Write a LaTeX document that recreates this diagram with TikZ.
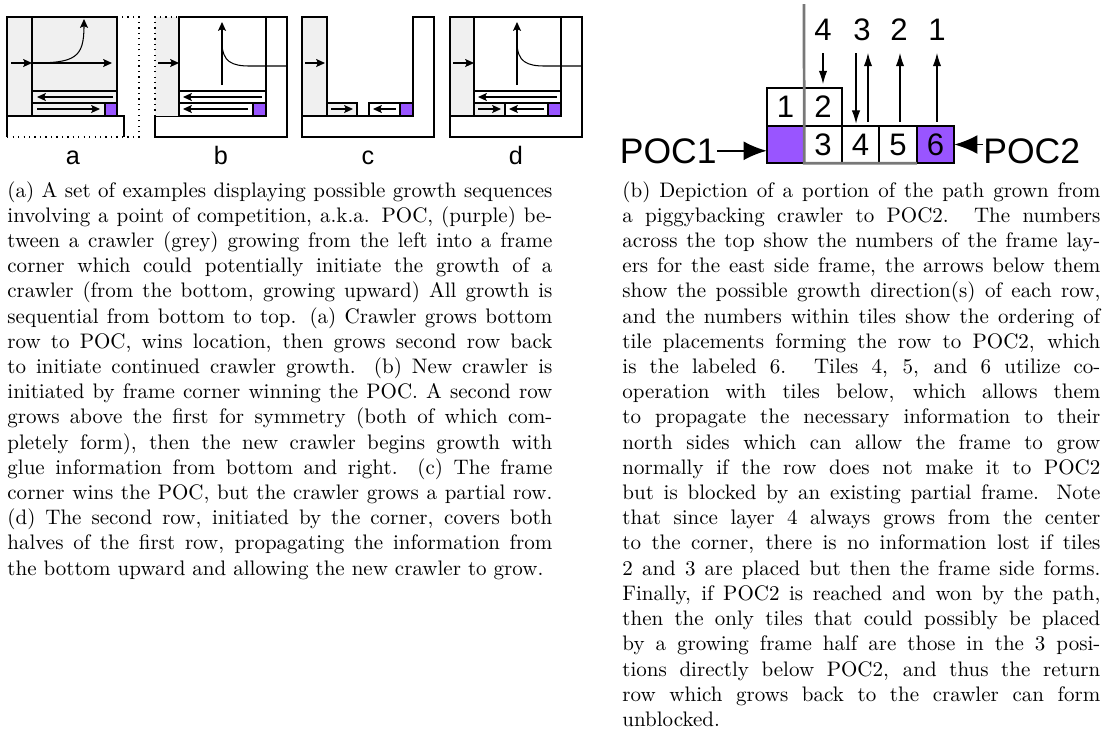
\documentclass[tikz,border=0pt]{standalone}
\usepackage{fontspec}
\newfontfamily\diagfont{Liberation Sans}
\usetikzlibrary{arrows.meta, positioning}
\definecolor{pocpurple}{RGB}{153,85,255}
\definecolor{crawlgrey}{RGB}{240,240,240}
\definecolor{framegrey}{RGB}{120,120,120}

\begin{document}
\begin{tikzpicture}[
  x=0.476pt, y=-0.476pt,
  part/.style={draw, line width=0.6pt, fill=white},
  crawl/.style={part, fill=crawlgrey},
  poc/.style={part, fill=pocpurple},
  flow/.style={-{Stealth[length=4.2pt,width=3.8pt,inset=0.8pt]}, line width=0.5pt},
  tile/.style={draw, line width=0.9pt, minimum size=17.85pt, inner sep=0pt, outer sep=0pt, font=\diagfont\fontsize{14.8}{15}\selectfont},
  layernum/.style={font=\diagfont\fontsize{14.8}{15}\selectfont, inner sep=0pt, anchor=base},
  growarrow/.style={-{Latex[length=6.3pt,width=4pt]}, line width=0.5pt},
  poclabel/.style={font=\diagfont\fontsize{16.9}{18}\selectfont, inner sep=0pt},
  pocarrow/.style={-{Latex[length=11pt,width=9pt]}, line width=0.9pt},
  panellabel/.style={font=\diagfont\fontsize{12}{14}\selectfont, inner sep=0pt, anchor=base},
  captext/.style={inner sep=0pt, anchor=base west, align=justify, font=\normalsize}
]
\useasboundingbox (0,0) rectangle (1105,729);

% (a) crawler wins the POC
\begin{scope}[xshift=7*0.476pt]
  \draw[line width=0.6pt, dotted] (0,17) rectangle (132,137);
  \draw[line width=0.6pt] (0,137) -- (0,116) -- (117,116) -- (117,137);
  \draw[crawl] (0,17) rectangle (25,116);
  \draw[crawl] (25,17) rectangle (110,116);
  \draw[crawl] (25,91) rectangle (110,103);
  \draw[crawl] (25,103) rectangle (98,116);
  \draw[poc] (98,103) rectangle (110,116);
  \draw[flow] (106,97) -- (30,97);
  \draw[flow] (30,109) -- (93,109);
  \draw[flow] (4,63) -- (25,63);
  \draw[flow] (25,63) -- (105,63);
  \draw[flow] (25,63) .. controls (68,63) and (77,58) .. (77,19);
\end{scope}

% (b) frame corner wins, new crawler
\begin{scope}[xshift=155*0.476pt]
  \draw[part] (0,116) -- (111,116) -- (111,17) -- (132,17) -- (132,137) -- (0,137) -- cycle;
  \draw[line width=0.6pt, dotted, fill=crawlgrey] (0,116) -- (0,17) -- (24,17) -- (24,116);
  \draw[part] (24,17) rectangle (111,116);
  \draw[part] (24,91) rectangle (111,103);
  \draw[part] (24,103) rectangle (98,116);
  \draw[poc] (98,103) rectangle (111,116);
  \draw[flow] (107,97) -- (28,97);
  \draw[flow] (93,109) -- (28,109);
  \draw[flow] (3,63) -- (24,63);
  \draw[flow] (67,85) -- (67,22);
  \draw[line width=0.5pt] (67,42) .. controls (67,62) and (77,66) .. (95,66) -- (132,66);
\end{scope}

% (c) partial row
\begin{scope}[xshift=302*0.476pt]
  \draw[part] (0,116) -- (111,116) -- (111,17) -- (132,17) -- (132,137) -- (0,137) -- cycle;
  \draw[crawl] (0,17) rectangle (25,116);
  \draw[crawl] (25,103) rectangle (55,116);
  \draw[part] (67,103) rectangle (98,116);
  \draw[poc] (98,103) rectangle (111,116);
  \draw[flow] (29,109) -- (51,109);
  \draw[flow] (94,109) -- (71,109);
  \draw[flow] (3,63) -- (23,63);
\end{scope}

% (d) second row covers both halves
\begin{scope}[xshift=450*0.476pt]
  \draw[part] (0,116) -- (111,116) -- (111,17) -- (132,17) -- (132,137) -- (0,137) -- cycle;
  \draw[crawl] (0,17) rectangle (24,116);
  \draw[part] (24,17) rectangle (111,116);
  \draw[part] (24,91) rectangle (111,103);
  \draw[crawl] (24,103) rectangle (55,116);
  \draw[part] (55,103) rectangle (98,116);
  \draw[poc] (98,103) rectangle (111,116);
  \draw[flow] (107,97) -- (28,97);
  \draw[flow] (28,109) -- (51,109);
  \draw[flow] (94,109) -- (59,109);
  \draw[flow] (3,63) -- (24,63);
  \draw[flow] (67,85) -- (67,22);
  \draw[line width=0.5pt] (67,42) .. controls (67,62) and (77,66) .. (95,66) -- (132,66);
\end{scope}

\node[panellabel] (lbla) at (73,164) {a};
\node[panellabel] (lblb) at (221,164) {b};
\node[panellabel] (lblc) at (368,164) {c};
\node[panellabel] (lbld) at (516,164) {d};

% path to POC2
\node[tile, fill=pocpurple] (p1) at (785.5,144.5) {};
\node[tile, right=0pt of p1] (t3) {3};
\node[tile, right=0pt of t3] (t4) {4};
\node[tile, right=0pt of t4] (t5) {5};
\node[tile, fill=pocpurple, right=0pt of t5] (t6) {6};
\node[tile, above=0pt of p1] (t1) {1};
\node[tile, above=0pt of t3] (t2) {2};
\coordinate (edgetop) at (804,4);
\draw[framegrey, line width=1.3pt] (edgetop) -- (p1.south east) -- (t5.south east);

\node[layernum] (lay4) at (823,40) {4};
\node[layernum] (lay3) at (862,40) {3};
\node[layernum] (lay2) at (899,40) {2};
\node[layernum] (lay1) at (937,40) {1};
\coordinate (g4) at (823,53);
\coordinate (g3a) at (856,53);
\coordinate (g3b) at (868,53);
\coordinate (g2) at (900,53);
\coordinate (g1) at (937,53);
\draw[growarrow, shorten >=2pt] (g4) -- (g4 |- t2.north);
\draw[growarrow, shorten >=1pt] (g3a) -- (g3a |- t4.north);
\draw[growarrow, shorten <=2pt] (g3b |- t4.north) -- (g3b);
\draw[growarrow, shorten <=2pt] (g2 |- t5.north) -- (g2);
\draw[growarrow, shorten <=2pt] (g1 |- t6.north) -- (g1);

\node[poclabel, anchor=base east] (poc1) at (717,163) {POC1};
\node[poclabel, anchor=base west] (poc2) at (983,163) {POC2};
\draw[pocarrow] (poc1.east) -- (poc1.east -| p1.west);
\draw[pocarrow] (poc2.west |- t6.east) -- (t6.east);

% captions
\node[captext, text width=259.4pt] (capa) at (7,197) {(a) A set of examples displaying possible growth sequences\linebreak
involving a point of competition, a.k.a. POC, (purple) be-\linebreak
tween a crawler (grey) growing from the left into a frame\linebreak
corner which could potentially initiate the growth of a\linebreak
crawler (from the bottom, growing upward) All growth is\linebreak
sequential from bottom to top. (a) Crawler grows bottom\linebreak
row to POC, wins location, then grows second row back\linebreak
to initiate continued crawler growth. (b) New crawler is\linebreak
initiated by frame corner winning the POC. A second row\linebreak
grows above the first for symmetry (both of which com-\linebreak
pletely form), then the new crawler begins growth with\linebreak
glue information from bottom and right. (c) The frame\linebreak
corner wins the POC, but the crawler grows a partial row.\linebreak
(d) The second row, initiated by the corner, covers both\linebreak
halves of the first row, propagating the information from\linebreak
the bottom upward and allowing the new crawler to grow.};
\node[captext, text width=227.5pt] (capb) at (622,197) {(b) Depiction of a portion of the path grown from\linebreak
a piggybacking crawler to POC2. The numbers\linebreak
across the top show the numbers of the frame lay-\linebreak
ers for the east side frame, the arrows below them\linebreak
show the possible growth direction(s) of each row,\linebreak
and the numbers within tiles show the ordering of\linebreak
tile placements forming the row to POC2, which\linebreak
is the labeled 6. Tiles 4, 5, and 6 utilize co-\linebreak
operation with tiles below, which allows them\linebreak
to propagate the necessary information to their\linebreak
north sides which can allow the frame to grow\linebreak
normally if the row does not make it to POC2\linebreak
but is blocked by an existing partial frame. Note\linebreak
that since layer 4 always grows from the center\linebreak
to the corner, there is no information lost if tiles\linebreak
2 and 3 are placed but then the frame side forms.\linebreak
Finally, if POC2 is reached and won by the path,\linebreak
then the only tiles that could possibly be placed\linebreak
by a growing frame half are those in the 3 posi-\linebreak
tions directly below POC2, and thus the return\linebreak
row which grows back to the crawler can form\linebreak
unblocked.};
\end{tikzpicture}
\end{document}
